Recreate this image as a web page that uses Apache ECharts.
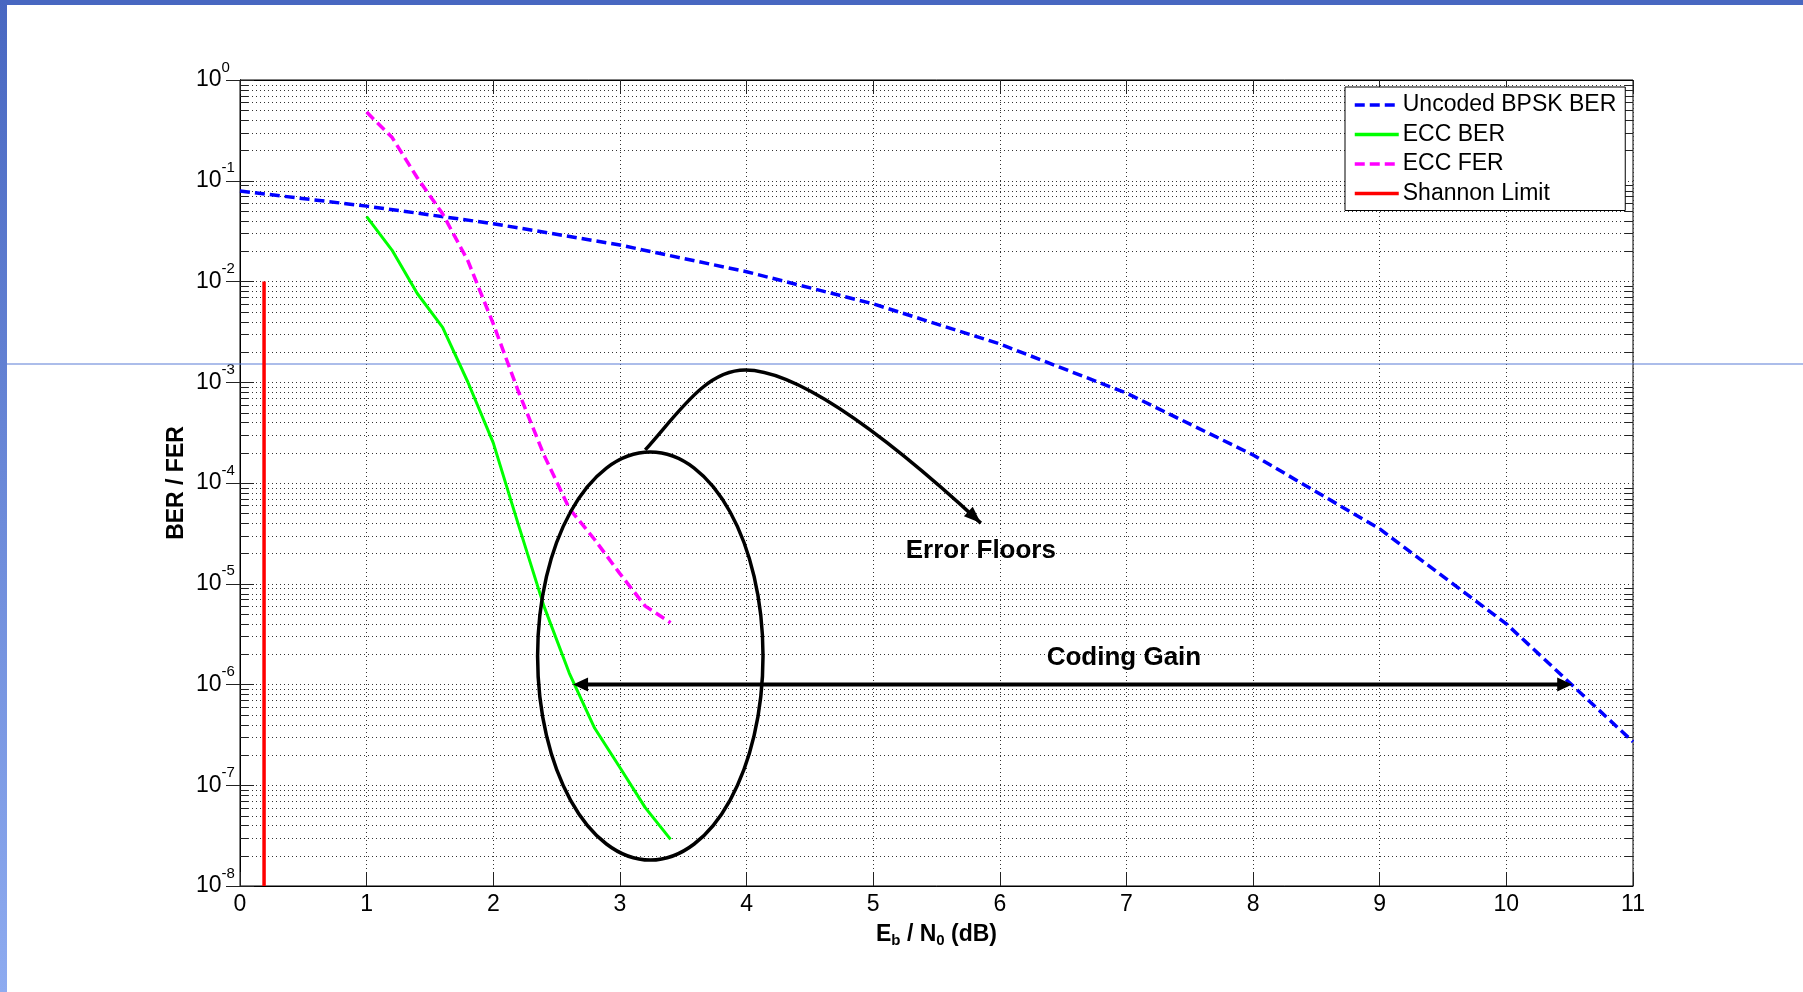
<!DOCTYPE html>
<html>
<head>
<meta charset="utf-8">
<script src="https://cdn.jsdelivr.net/npm/echarts@6/dist/echarts.min.js"></script>
<style>
html, body { margin: 0; padding: 0; background: #ffffff; }
#chart { width: 1803px; height: 992px; }
</style>
</head>
<body>
<div id="chart"></div>
<script>
// ---------------- data ----------------
const seriesNames = ['Uncoded BPSK BER', 'ECC BER', 'ECC FER', 'Shannon Limit'];

const ebn0Uncoded = [0, 1, 2, 3, 4, 5, 6, 7, 8, 9, 10, 11];
const berUncoded = [7.9e-2, 5.6e-2, 3.75e-2, 2.3e-2, 1.25e-2, 6.0e-3, 2.4e-3, 7.8e-4, 1.9e-4, 3.5e-5, 4.0e-6, 2.7e-7];

const ebn0Ecc = [1.0, 1.2, 1.4, 1.6, 1.8, 2.0, 2.2, 2.4, 2.6, 2.8, 3.0, 3.2, 3.4];
const berEcc = [4.4e-2, 2.05e-2, 7.6e-3, 3.5e-3, 1.0e-3, 2.5e-4, 3.8e-5, 6.0e-6, 1.3e-6, 3.7e-7, 1.5e-7, 6.0e-8, 2.9e-8];
const ferEcc = [4.8e-1, 2.7e-1, 1.07e-1, 4.7e-2, 1.6e-2, 3.8e-3, 8.0e-4, 1.9e-4, 5.6e-5, 2.75e-5, 1.26e-5, 6.0e-6, 4.1e-6];

const shannonX = [0.19, 0.19];
const shannonY = [1.0e-2, 1.0e-8];

// tick labels
const xTickLabels = ['0', '1', '2', '3', '4', '5', '6', '7', '8', '9', '10', '11'];
const yExponents = [0, -1, -2, -3, -4, -5, -6, -7, -8];
const minorMantissas = [2, 3, 4, 5, 6, 7, 8, 9];

// annotations (data coordinates)
const ellipseBox = [[2.35, 2.03e-4], [4.13, 1.81e-8]];
const floorCurve = [[3.20, 2.13e-4], [3.47, 5.1e-4], [3.68, 1.32e-3], [3.99, 1.32e-3],
                    [4.39, 1.32e-3], [5.06, 3.3e-4], [5.85, 4.0e-5]];
const gainArrow = [[2.63, 1.0e-6], [10.52, 1.0e-6]];
const floorLabel = { text: 'Error Floors', pos: [5.85, 2.1e-5] };
const gainLabel = { text: 'Coding Gain', pos: [6.98, 1.82e-6] };

// ---------------- build ----------------
const FONT = '"Liberation Sans", Arial, Helvetica, sans-serif';
const zip = (xs, ys) => xs.map((x, i) => [x, ys[i]]);

const minorData = [];
yExponents.slice(1).forEach(e => {
  minorMantissas.forEach(m => minorData.push([0, m * Math.pow(10, e)]));
});

function renderMinor(params, api) {
  const cs = params.coordSys;
  const y = Math.round(api.coord([0, api.value(1)])[1]) + 0.5;
  const x0 = cs.x, x1 = cs.x + cs.width;
  return {
    type: 'group',
    children: [
      { type: 'line', shape: { x1: x0, y1: y, x2: x1, y2: y },
        style: { stroke: '#333', lineWidth: 1, lineDash: [1, 3] } },
      { type: 'line', shape: { x1: x0, y1: y, x2: x0 + 8, y2: y },
        style: { stroke: '#222', lineWidth: 1 } },
      { type: 'line', shape: { x1: x1 - 8, y1: y, x2: x1, y2: y },
        style: { stroke: '#222', lineWidth: 1 } }
    ]
  };
}

function arrowHead(tip, from, len, half) {
  const dx = tip[0] - from[0], dy = tip[1] - from[1];
  const d = Math.sqrt(dx * dx + dy * dy);
  const ux = dx / d, uy = dy / d;
  const bx = tip[0] - ux * len, by = tip[1] - uy * len;
  return {
    type: 'polygon',
    shape: { points: [tip, [bx - uy * half, by + ux * half], [bx + uy * half, by - ux * half]] },
    style: { fill: '#000' }
  };
}

function renderAnnot(params, api) {
  const a = api.coord(ellipseBox[0]);
  const b = api.coord(ellipseBox[1]);
  const c = floorCurve.map(p => api.coord(p));
  const g0 = api.coord(gainArrow[0]);
  const g1 = api.coord(gainArrow[1]);
  const fl = api.coord(floorLabel.pos);
  const gl = api.coord(gainLabel.pos);
  const path = 'M' + c[0][0] + ',' + c[0][1] +
    ' C' + c[1][0] + ',' + c[1][1] + ' ' + c[2][0] + ',' + c[2][1] + ' ' + c[3][0] + ',' + c[3][1] +
    ' C' + c[4][0] + ',' + c[4][1] + ' ' + c[5][0] + ',' + c[5][1] + ' ' + c[6][0] + ',' + c[6][1];
  const tipBack = [c[6][0] - (c[6][0] - c[5][0]) * 0.15, c[6][1] - (c[6][1] - c[5][1]) * 0.15];
  const txt = (t, p) => ({
    type: 'text',
    style: { text: t, x: p[0], y: p[1], fill: '#000', fontSize: 26, fontWeight: 'bold',
             fontFamily: FONT, align: 'center', verticalAlign: 'middle' }
  });
  return {
    type: 'group',
    children: [
      { type: 'ellipse',
        shape: { cx: (a[0] + b[0]) / 2, cy: (a[1] + b[1]) / 2, rx: Math.abs(b[0] - a[0]) / 2, ry: Math.abs(b[1] - a[1]) / 2 },
        style: { fill: 'none', stroke: '#000', lineWidth: 3.5 } },
      { type: 'path', shape: { pathData: path },
        style: { fill: 'none', stroke: '#000', lineWidth: 3.5 } },
      arrowHead(c[6], tipBack, 17, 6.5),
      { type: 'line', shape: { x1: g0[0] + 12, y1: g0[1], x2: g1[0] - 12, y2: g1[1] },
        style: { stroke: '#000', lineWidth: 4 } },
      arrowHead(g0, [g0[0] + 10, g0[1]], 15, 7),
      arrowHead(g1, [g1[0] - 10, g1[1]], 15, 7),
      txt(floorLabel.text, fl),
      txt(gainLabel.text, gl)
    ]
  };
}

const chart = echarts.init(document.getElementById('chart'), null, { renderer: 'canvas' });

const tickStyle = { color: '#222', width: 1 };
const gridDot = { color: '#333', width: 1, type: [1, 3] };

const option = {
  animation: false,
  backgroundColor: '#ffffff',
  textStyle: { fontFamily: FONT },
  graphic: [
    { type: 'rect', shape: { x: 0, y: 0, width: 1803, height: 5 }, style: { fill: '#4867c1' }, z: 10 },
    { type: 'rect', shape: { x: 0, y: 0, width: 7, height: 992 },
      style: { fill: new echarts.graphic.LinearGradient(0, 0, 0, 1, [
        { offset: 0, color: '#4867c1' }, { offset: 1, color: '#8eabf0' }]) }, z: 10 },
    { type: 'rect', shape: { x: 7, y: 363.5, width: 1796, height: 1 }, style: { fill: '#5a7dd6' }, z: 1 }
  ],
  grid: {
    left: 240, top: 80, width: 1393, height: 806,
    show: true, borderColor: '#000', borderWidth: 1, backgroundColor: 'transparent'
  },
  legend: {
    data: seriesNames,
    orient: 'vertical',
    left: 1345, top: 87,
    padding: [5, 9, 4, 8],
    itemWidth: 44, itemHeight: 14, itemGap: 3.5,
    itemStyle: { opacity: 0, borderWidth: 0 },
    lineStyle: { width: 3.5 },
    backgroundColor: '#fff', borderColor: '#000', borderWidth: 1, borderRadius: 0,
    textStyle: { fontSize: 23, color: '#000', fontFamily: FONT, lineHeight: 26, padding: [0, 0, 0, -1] },
    selectedMode: false
  },
  xAxis: [
    {
      type: 'value', min: 0, max: 11, interval: 1, position: 'bottom',
      name: '{n|E}{s|b}{n| / N}{s|0}{n| (dB)}',
      nameLocation: 'middle', nameGap: 27,
      nameTextStyle: {
        rich: {
          n: { fontSize: 23, fontWeight: 'bold', color: '#000', lineHeight: 27, fontFamily: FONT },
          s: { fontSize: 15, fontWeight: 'bold', color: '#000', lineHeight: 15, padding: [12, 0, 0, 0], fontFamily: FONT }
        }
      },
      axisLine: { show: true, lineStyle: { color: '#000', width: 1 } },
      axisTick: { show: true, inside: true, length: 14, lineStyle: tickStyle },
      axisLabel: { show: true, fontSize: 23, color: '#000', margin: 7, fontFamily: FONT,
                   formatter: (v) => xTickLabels[Math.round(v)] },
      splitLine: { show: true, lineStyle: gridDot }
    },
    {
      type: 'value', min: 0, max: 11, interval: 1, position: 'top',
      axisLine: { show: true, lineStyle: { color: '#000', width: 1 } },
      axisTick: { show: true, inside: true, length: 14, lineStyle: tickStyle },
      axisLabel: { show: false }, splitLine: { show: false }
    }
  ],
  yAxis: [
    {
      type: 'log', logBase: 10, min: 1e-8, max: 1, interval: 1, splitNumber: 8, position: 'left',
      name: 'BER / FER', nameLocation: 'middle', nameGap: 52, nameRotate: 90, nameMoveOverlap: false,
      nameTextStyle: { fontSize: 23, fontWeight: 'bold', color: '#000', fontFamily: FONT },
      axisLine: { show: true, lineStyle: { color: '#000', width: 1 } },
      axisTick: { show: true, inside: true, length: 14, lineStyle: tickStyle },
      axisLabel: {
        show: true, align: 'left', margin: 44, showMinLabel: true, showMaxLabel: true,
        formatter: (v) => '{b|10}{s|' + Math.round(Math.log10(v)) + '}',
        rich: {
          b: { fontSize: 23, color: '#000', lineHeight: 40, fontFamily: FONT },
          s: { fontSize: 15, color: '#000', lineHeight: 15, padding: [0, 0, 25, 0], fontFamily: FONT }
        }
      },
      splitLine: { show: true, lineStyle: gridDot },
      minorTick: { show: false }
    },
    {
      type: 'log', logBase: 10, min: 1e-8, max: 1, interval: 1, splitNumber: 8, position: 'right',
      axisLine: { show: true, lineStyle: { color: '#000', width: 1 } },
      axisTick: { show: true, inside: true, length: 14, lineStyle: tickStyle },
      axisLabel: { show: false }, splitLine: { show: false }
    }
  ],
  series: [
    {
      name: 'minor grid', type: 'custom', silent: true, z: 1,
      xAxisIndex: 0, yAxisIndex: 0,
      renderItem: renderMinor, data: minorData
    },
    {
      name: seriesNames[0], type: 'line', symbol: 'none', xAxisIndex: 0, yAxisIndex: 0, z: 3,
      lineStyle: { color: '#0000ff', width: 3.5, type: [10, 5] }, itemStyle: { color: '#0000ff' },
      data: zip(ebn0Uncoded, berUncoded)
    },
    {
      name: seriesNames[1], type: 'line', symbol: 'none', xAxisIndex: 0, yAxisIndex: 0, z: 3,
      lineStyle: { color: '#00ff00', width: 3, type: 'solid' }, itemStyle: { color: '#00ff00' },
      data: zip(ebn0Ecc, berEcc)
    },
    {
      name: seriesNames[2], type: 'line', symbol: 'none', xAxisIndex: 0, yAxisIndex: 0, z: 3,
      lineStyle: { color: '#ff00ff', width: 3.5, type: [10, 5] }, itemStyle: { color: '#ff00ff' },
      data: zip(ebn0Ecc, ferEcc)
    },
    {
      name: seriesNames[3], type: 'line', symbol: 'none', xAxisIndex: 0, yAxisIndex: 0, z: 3,
      lineStyle: { color: '#ff0000', width: 3.5, type: 'solid' }, itemStyle: { color: '#ff0000' },
      data: zip(shannonX, shannonY)
    },
    {
      name: 'annotations', type: 'custom', silent: true, z: 4,
      xAxisIndex: 0, yAxisIndex: 0,
      renderItem: renderAnnot, data: [[0, 1]]
    }
  ]
};

chart.setOption(option);
</script>
</body>
</html>
